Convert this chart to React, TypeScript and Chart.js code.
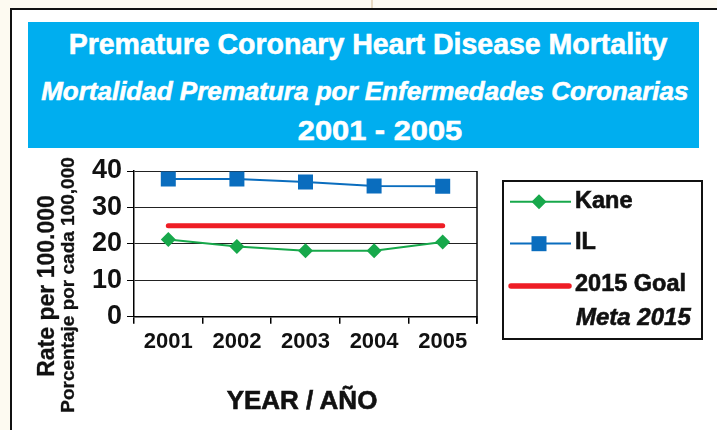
import React, { useEffect, useRef } from 'react';
import { Chart, registerables } from 'chart.js';

Chart.register(...registerables);

const years = ['2001', '2002', '2003', '2004', '2005'];
const kane = [21.2, 19.3, 18.1, 18.1, 20.5];
const il = [37.8, 37.8, 37.0, 35.9, 35.8];
const goal = [25, 25, 25, 25, 25];
const yTicks = [0, 10, 20, 30, 40];

const FONT = "'Liberation Sans', Arial, Helvetica, sans-serif";
const GREEN = '#17A84B';
const BLUE = '#0A6DBE';
const RED = '#EE1D25';
const CYAN = '#00AEEF';
const INK = '#111111';

const rightBorder = {
  id: 'rightBorder',
  afterDraw(chart: any) {
    const { ctx, chartArea } = chart;
    ctx.save();
    ctx.strokeStyle = '#000';
    ctx.lineWidth = 1.5;
    ctx.beginPath();
    ctx.moveTo(chartArea.right, chartArea.top);
    ctx.lineTo(chartArea.right, chartArea.bottom + 7);
    ctx.stroke();
    ctx.restore();
  },
};

function Txt(props: {
  cx: number;
  capTop: number;
  size: number;
  text: string;
  italic?: boolean;
  color?: string;
  scaleX?: number;
  left?: boolean;
}) {
  const { cx, capTop, size, text, italic, color, scaleX, left } = props;
  const top = capTop - 0.1305 * size;
  const c = color || INK;
  return (
    <div
      style={{
        position: 'absolute',
        left: cx,
        top,
        fontFamily: FONT,
        fontWeight: 700,
        fontStyle: italic ? 'italic' : 'normal',
        fontSize: size,
        lineHeight: 1,
        whiteSpace: 'nowrap',
        color: c,
        WebkitTextStroke: `0.6px ${c}`,
        transform: left ? `scaleX(${scaleX || 1})` : `translateX(-50%) scaleX(${scaleX || 1})`,
        transformOrigin: left ? 'left center' : 'center center',
      }}
    >
      {text}
    </div>
  );
}

function VTxt(props: { cx: number; cy: number; size: number; text: string }) {
  const { cx, cy, size, text } = props;
  return (
    <div
      style={{
        position: 'absolute',
        left: cx,
        top: cy,
        fontFamily: FONT,
        fontWeight: 700,
        fontSize: size,
        lineHeight: 1,
        whiteSpace: 'nowrap',
        color: INK,
        WebkitTextStroke: `0.3px ${INK}`,
        transform: 'translate(-50%, -50%) rotate(-90deg)',
      }}
    >
      {text}
    </div>
  );
}

export default function App() {
  const ref = useRef<HTMLCanvasElement | null>(null);

  useEffect(() => {
    if (!ref.current) return;
    const chart = new Chart(ref.current, {
      type: 'line',
      data: {
        labels: years,
        datasets: [
          {
            label: 'Kane',
            data: kane,
            borderColor: GREEN,
            backgroundColor: GREEN,
            borderWidth: 2,
            pointStyle: 'rectRot',
            pointRadius: 7.5,
            pointBorderWidth: 0,
            pointBackgroundColor: GREEN,
            tension: 0,
          },
          {
            label: 'IL',
            data: il,
            borderColor: BLUE,
            backgroundColor: BLUE,
            borderWidth: 2,
            pointStyle: 'rect',
            pointRadius: 10.6,
            pointBorderWidth: 0,
            pointBackgroundColor: BLUE,
            tension: 0,
          },
          {
            label: '2015 Goal',
            data: goal,
            borderColor: RED,
            borderWidth: 5,
            borderCapStyle: 'round',
            pointRadius: 0,
            tension: 0,
          },
        ],
      },
      options: {
        animation: false,
        responsive: false,
        devicePixelRatio: 1,
        layout: { padding: { top: 171, right: 240, bottom: 73.3, left: 0 } },
        plugins: { legend: { display: false }, tooltip: { enabled: false } },
        scales: {
          x: {
            offset: true,
            grid: {
              offset: true,
              drawOnChartArea: false,
              drawTicks: true,
              tickLength: 7,
              color: '#000',
              tickColor: '#000',
              lineWidth: 1.5,
            },
            border: { color: '#000', width: 1.5 },
            ticks: {
              color: INK,
              padding: 5,
              font: { family: FONT, weight: 'bold', size: 22 },
            },
            afterFit: (s: any) => {
              s.height = 40;
            },
          },
          y: {
            min: 0,
            max: 40,
            afterBuildTicks: (s: any) => {
              s.ticks = yTicks.map((v) => ({ value: v }));
            },
            grid: {
              color: '#222',
              lineWidth: 1,
              tickLength: 7,
              tickColor: '#000',
            },
            border: { color: '#000', width: 1.5 },
            ticks: {
              color: INK,
              padding: 5,
              font: { family: FONT, weight: 'bold', size: 27 },
            },
            afterFit: (s: any) => {
              s.width = 134;
            },
          },
        },
      },
      plugins: [rightBorder],
    } as any);
    return () => chart.destroy();
  }, []);

  return (
    <div
      style={{
        position: 'absolute',
        left: 0,
        top: 0,
        width: 717,
        height: 430,
        background: '#FDFAF1',
        overflow: 'hidden',
      }}
    >
      <div style={{ position: 'absolute', left: 371, top: 0, width: 2, height: 9, background: '#E8DAC2' }} />
      <div
        style={{
          position: 'absolute',
          left: 10,
          top: 8,
          width: 800,
          height: 500,
          border: '2px solid #111',
          background: '#fff',
        }}
      />
      <div style={{ position: 'absolute', left: 28, top: 22, width: 671, height: 126, background: CYAN }} />
      <Txt cx={367.6} capTop={33.3} size={30} scaleX={0.95} color="#fff" text="Premature Coronary Heart Disease Mortality" />
      <Txt cx={364.8} capTop={81.7} size={26} italic color="#fff" text="Mortalidad Prematura por Enfermedades Coronarias" />
      <Txt cx={379.5} capTop={120.7} size={28} scaleX={1.1} color="#fff" text="2001 - 2005" />

      <canvas ref={ref} width={717} height={430} style={{ position: 'absolute', left: 0, top: 0 }} />

      <VTxt cx={45.5} cy={286} size={23} text="Rate per 100.000" />
      <VTxt cx={67} cy={285} size={19} text="Porcentaje por cada 100,000" />
      <Txt cx={302} capTop={390} size={26} text="YEAR / AÑO" />

      <div
        style={{
          position: 'absolute',
          left: 502,
          top: 180,
          width: 197,
          height: 156,
          border: '2px solid #111',
        }}
      />
      <svg width={717} height={430} style={{ position: 'absolute', left: 0, top: 0 }}>
        <line x1={510} y1={201.7} x2={571} y2={201.7} stroke={GREEN} strokeWidth={2} />
        <polygon points="531.5,201.7 539,194.2 546.5,201.7 539,209.2" fill={GREEN} />
        <line x1={510} y1={243.5} x2={571} y2={243.5} stroke={BLUE} strokeWidth={2} />
        <rect x={531.5} y={236.2} width={15} height={15} fill={BLUE} />
        <line x1={511} y1={286} x2={569} y2={286} stroke={RED} strokeWidth={5.5} strokeLinecap="round" />
      </svg>
      <Txt left cx={575} capTop={191.7} size={23.5} text="Kane" />
      <Txt left cx={575} capTop={233} size={23.5} text="IL" />
      <Txt left cx={575} capTop={275} size={23.5} text="2015 Goal" />
      <Txt left cx={576} capTop={308} size={24} italic text="Meta 2015" />
    </div>
  );
}
